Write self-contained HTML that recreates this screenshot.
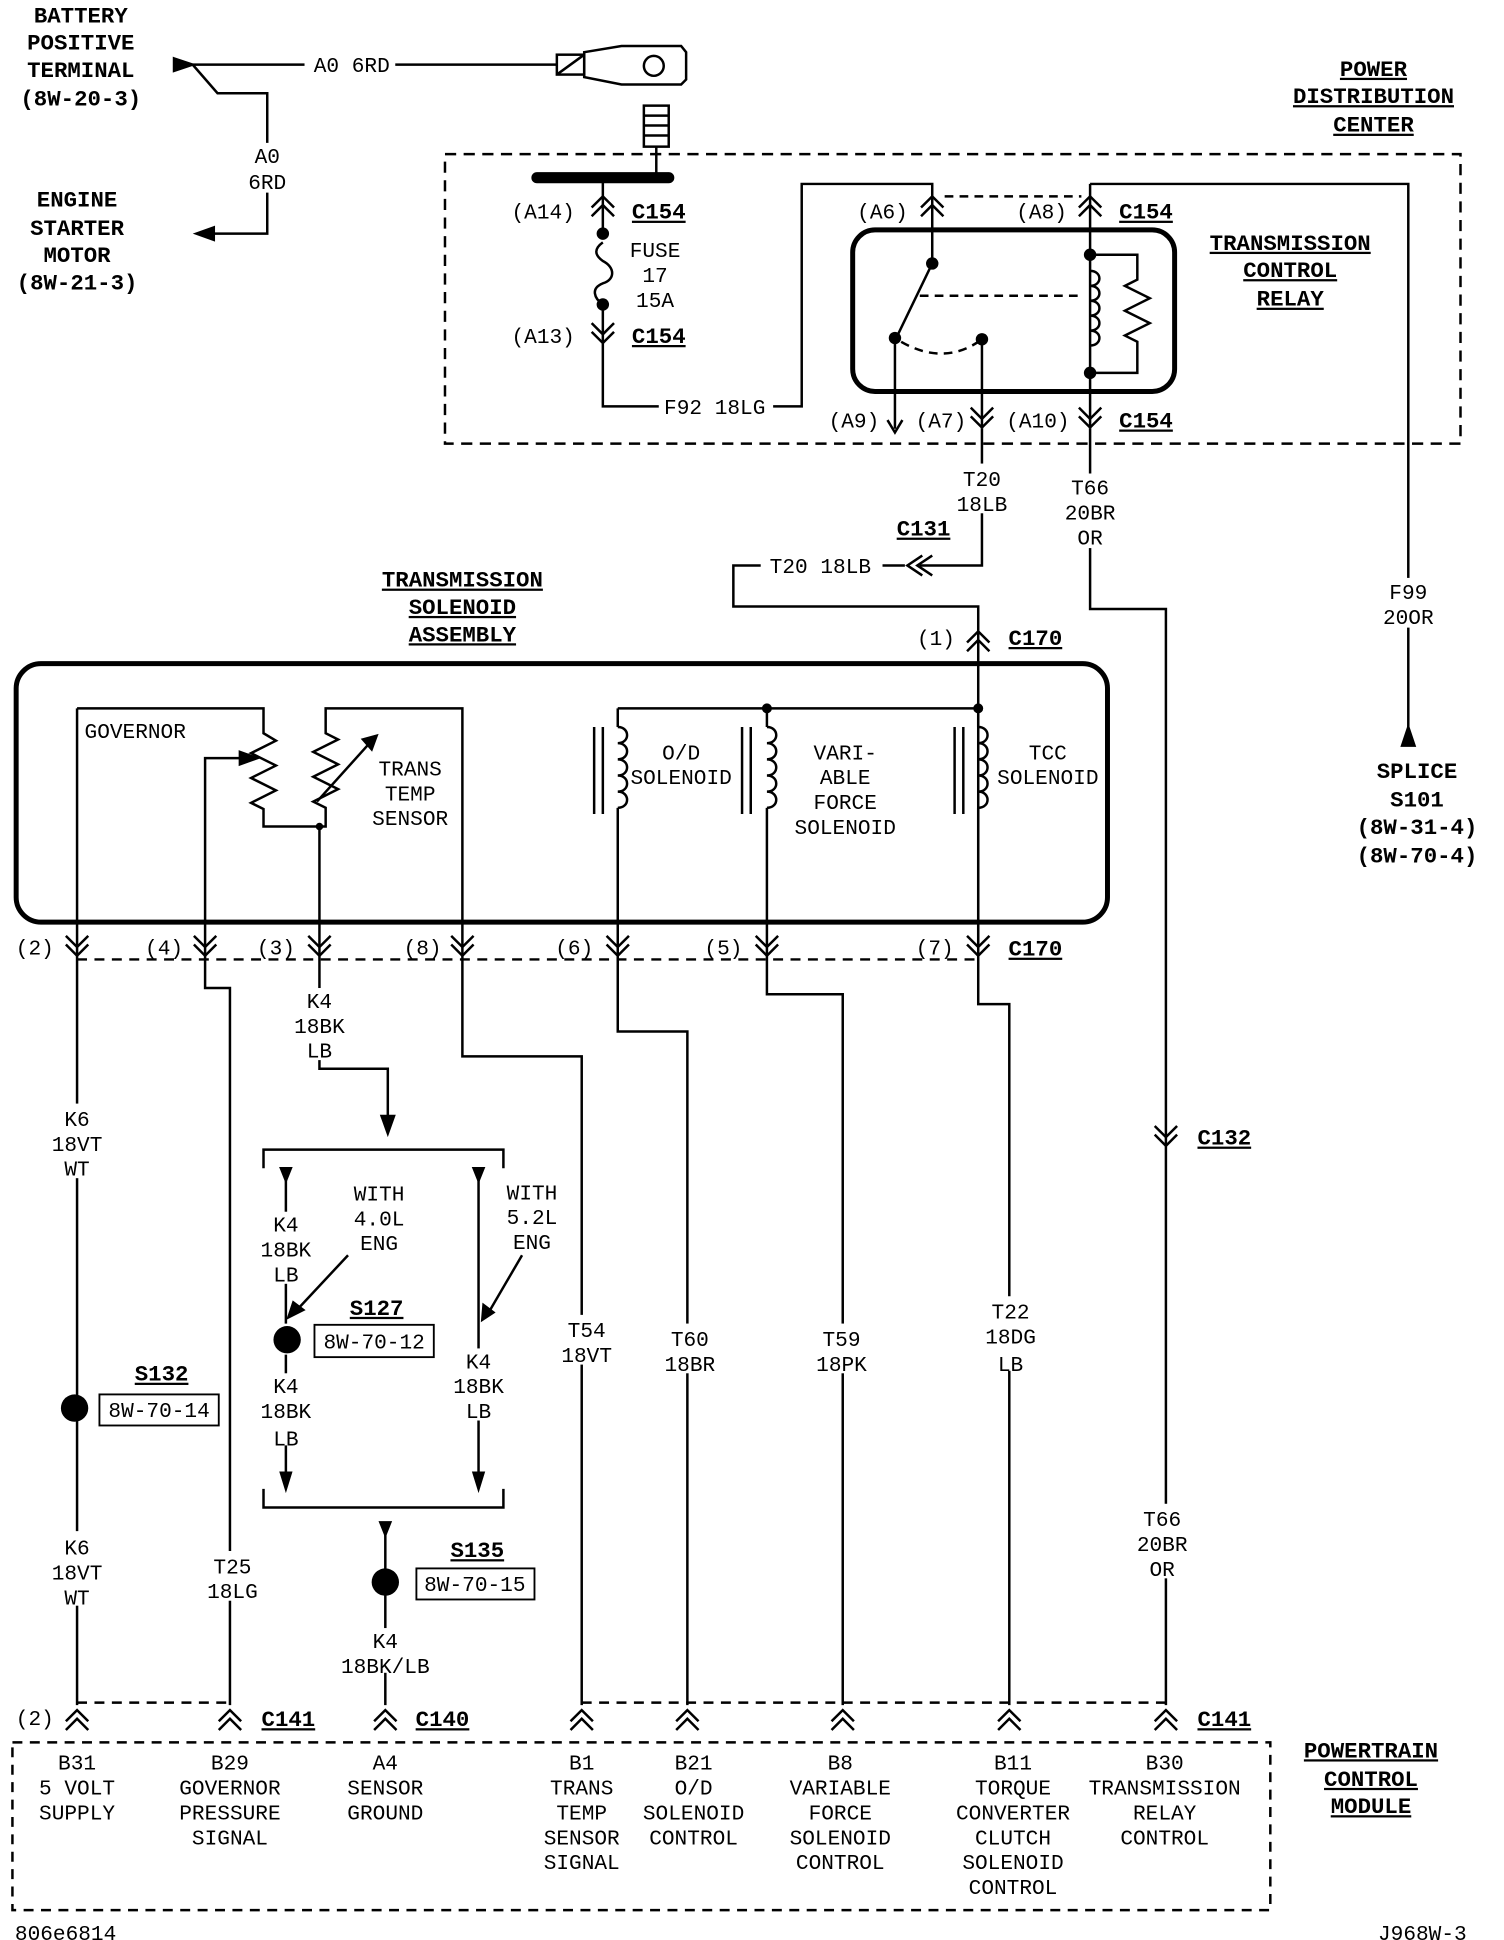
<!DOCTYPE html>
<html><head><style>
html,body{margin:0;padding:0;background:#fff;}
svg{display:block}
text{font-family:"Liberation Mono",monospace;font-size:17px;text-anchor:middle;fill:#000}
.b{font-weight:bold;font-size:18px}
.u{text-decoration:underline}
.l{text-anchor:start}
.r{text-anchor:end}
</style></head><body>
<svg width="1504" height="1940" viewBox="0 0 1210 1561" preserveAspectRatio="none" xmlns="http://www.w3.org/2000/svg">
<defs>
<g id="up"><path d="M-9,5 L0,-4 L9,5 M-9,12 L0,3 L9,12" fill="none" stroke="#000" stroke-width="2"/></g>
<g id="dn"><path d="M-9,-5 L0,4 L9,-5 M-9,-12 L0,-3 L9,-12" fill="none" stroke="#000" stroke-width="2"/></g>
</defs>
<g fill="none" stroke="#000" stroke-width="2">
<path d="M155,52 L245,52 M318,52 L448,52 M155,52 L175,75 L215,75 L215,115 M215,155 L215,188 L170,188"/>
<path d="M140,47 L155,52 L140,57 Z M172,183 L158,188 L172,193 Z" fill="#000"/>
<path d="M470,42 L500,37 L548,37 L552,42 L552,64 L548,68 L500,68 L470,62 Z"/>
<rect x="448" y="44" width="22" height="16"/><path d="M448,60 L470,44"/>
<circle cx="526" cy="53" r="8"/>
<rect x="518" y="85" width="20" height="33"/><path d="M518,93 H538 M518,101 H538 M518,109 H538 M528,118 V140"/>
<line x1="432" y1="143" x2="538" y2="143" stroke-width="9" stroke-linecap="round"/>
<rect x="358" y="124" width="817" height="233" stroke-dasharray="9,6"/>
<path d="M485,143 V188 M485,245 V327 H530 M622,327 H645 V148 H750 V212"/>
<path d="M485,195 C478,200 478,205 485,210 C495,215 495,225 485,228 C475,232 478,240 485,245"/>
<rect x="686" y="185" width="259" height="130" rx="18" stroke-width="4"/>
<path d="M760,158 H870 M740,238 H868 M725,275 Q760,295 790,273" stroke-dasharray="7,5"/>
<path d="M750,212 L722,270 M720,272 V345 M790,273 V345 M877,148 V345 M877,148 H1133 V595"/>
<path d="M877,205 H915 V225 L905,230 L925,240 L905,250 L925,260 L905,270 L915,275 V300 H877"/>
<path d="M877,218 c10,0 10,12 0,12 c10,0 10,12 0,12 c10,0 10,12 0,12 c10,0 10,12 0,12 c10,0 10,12 0,12"/>
<path d="M790,345 V455 H740 M728,455 H590 V488 H787 V760 M877,345 V490 H938 V1372"/>
<path d="M714,338 L720,348 L726,338"/>
<path d="M1128,600 L1133,585 L1138,600 Z" fill="#000"/>
<path d="M742,447 L730,455 L742,463 M750,447 L738,455 L750,463"/>
<rect x="13" y="534" width="878" height="208" rx="20" stroke-width="4"/>
<path d="M62,570 H212 V590 l10,6 -20,10 20,10 -20,10 20,10 -20,10 10,5 V665 H262 V650 l-10,-5 20,-10 -20,-10 20,-10 -20,-10 20,-10 -10,-5 V570 H372 V850 H468 V1372"/>
<path d="M62,570 V1372 M165,760 V610 H200 M255,645 L300,595 M257,665 V860 H312 V905 M165,760 V795 H185 V1372"/>
<path d="M193,605 L207,610 L193,615 Z M292,595 L303,592 L299,603 Z" fill="#000"/>
<path d="M497,570 H787 M497,570 V585 M497,650 V830 H553 V1372 M617,570 V585 M617,650 V800 H678 V1372 M787,570 V585 M787,650 V808 H812 V1372"/>
<path d="M497,585 c10,0 10,13 0,13 c10,0 10,13 0,13 c10,0 10,13 0,13 c10,0 10,13 0,13 c10,0 10,13 0,13"/>
<path d="M617,585 c10,0 10,13 0,13 c10,0 10,13 0,13 c10,0 10,13 0,13 c10,0 10,13 0,13 c10,0 10,13 0,13"/>
<path d="M787,585 c10,0 10,13 0,13 c10,0 10,13 0,13 c10,0 10,13 0,13 c10,0 10,13 0,13 c10,0 10,13 0,13"/>
<path d="M478,585 V655 M485,585 V655 M597,585 V655 M604,585 V655 M768,585 V655 M775,585 V655"/>
<path d="M62,772 H787 M62,1370 H185 M468,1370 H938" stroke-dasharray="8,6"/>
<path d="M212,940 V925 H405 V940 M212,1198 V1213 H405 V1198"/>
<path d="M230,940 V1065 M230,1090 V1195 M385,940 V1195 M310,1228 V1372 M280,1010 L238,1055 M420,1010 L392,1058"/>
<path d="M226,940 L230,950 L234,940 Z M381,940 L385,950 L389,940 Z M226,1185 L230,1198 L234,1185 Z M381,1185 L385,1198 L389,1185 Z M306,1225 L310,1235 L314,1225 Z M307,898 L312,912 L317,898 Z M236,1048 L232,1060 L244,1054 Z M389,1050 L388,1062 L397,1056 Z" fill="#000"/>
<rect x="253" y="1066" width="96" height="26" stroke-width="1.5"/>
<rect x="80" y="1122" width="96" height="25" stroke-width="1.5"/>
<rect x="335" y="1262" width="95" height="25" stroke-width="1.5"/>
<rect x="10" y="1402" width="1012" height="135" stroke-dasharray="8,6"/>
</g>
<g fill="#fff"><rect x="47" y="888" width="30" height="60"/><rect x="47" y="1232" width="30" height="60"/><rect x="165" y="1248" width="40" height="40"/><rect x="240" y="795" width="34" height="58"/><rect x="448" y="1058" width="40" height="40"/><rect x="535" y="1065" width="40" height="40"/><rect x="658" y="1065" width="40" height="40"/><rect x="790" y="1043" width="44" height="60"/><rect x="915" y="1210" width="44" height="60"/><rect x="210" y="975" width="40" height="58"/><rect x="210" y="1105" width="40" height="58"/><rect x="365" y="1085" width="40" height="58"/><rect x="290" y="1310" width="40" height="36"/><rect x="1115" y="465" width="40" height="40"/><rect x="770" y="373" width="40" height="40"/><rect x="857" y="381" width="40" height="60"/><rect x="612" y="444" width="98" height="22"/></g>
<g fill="#000">
<circle cx="485" cy="188" r="5"/><circle cx="485" cy="245" r="5"/>
<circle cx="750" cy="212" r="5"/><circle cx="720" cy="272" r="5"/><circle cx="790" cy="273" r="5"/>
<circle cx="877" cy="205" r="5"/><circle cx="877" cy="300" r="5"/>
<circle cx="257" cy="665" r="3"/><circle cx="617" cy="570" r="4"/><circle cx="787" cy="570" r="4"/>
<circle cx="60" cy="1133" r="11"/><circle cx="231" cy="1078" r="11"/><circle cx="310" cy="1273" r="11"/>
</g>
<use href="#up" x="485" y="162"/><use href="#dn" x="485" y="272"/><use href="#up" x="750" y="162"/><use href="#up" x="877" y="162"/>
<use href="#dn" x="790" y="340"/><use href="#dn" x="877" y="340"/><use href="#up" x="787" y="512"/>
<use href="#dn" x="62" y="765"/><use href="#dn" x="165" y="765"/><use href="#dn" x="257" y="765"/><use href="#dn" x="372" y="765"/><use href="#dn" x="497" y="765"/><use href="#dn" x="617" y="765"/><use href="#dn" x="787" y="765"/>
<use href="#dn" x="938" y="918"/>
<use href="#up" x="62" y="1380"/><use href="#up" x="185" y="1380"/><use href="#up" x="310" y="1380"/><use href="#up" x="468" y="1380"/><use href="#up" x="553" y="1380"/><use href="#up" x="678" y="1380"/><use href="#up" x="812" y="1380"/><use href="#up" x="938" y="1380"/>
<g class="b"><text x="65" y="18" class="b">BATTERY</text><text x="65" y="40" class="b">POSITIVE</text><text x="65" y="62" class="b">TERMINAL</text><text x="65" y="85" class="b">(8W-20-3)</text>
<text x="62" y="166" class="b">ENGINE</text><text x="62" y="189" class="b">STARTER</text><text x="62" y="211" class="b">MOTOR</text><text x="62" y="233" class="b">(8W-21-3)</text>
<text x="1105" y="61" class="b u">POWER</text><text x="1105" y="83" class="b u">DISTRIBUTION</text><text x="1105" y="106" class="b u">CENTER</text>
<text x="1038" y="201" class="b u">TRANSMISSION</text><text x="1038" y="223" class="b u">CONTROL</text><text x="1038" y="246" class="b u">RELAY</text>
<text x="1140" y="626" class="b">SPLICE</text><text x="1140" y="649" class="b">S101</text><text x="1140" y="671" class="b">(8W-31-4)</text><text x="1140" y="694" class="b">(8W-70-4)</text>
<text x="372" y="472" class="b u">TRANSMISSION</text><text x="372" y="494" class="b u">SOLENOID</text><text x="372" y="516" class="b u">ASSEMBLY</text>
<text x="1103" y="1414" class="b u">POWERTRAIN</text><text x="1103" y="1437" class="b u">CONTROL</text><text x="1103" y="1459" class="b u">MODULE</text>
<text x="530" y="176" class="b u">C154</text><text x="530" y="276" class="b u">C154</text><text x="922" y="176" class="b u">C154</text><text x="922" y="344" class="b u">C154</text>
<text x="743" y="431" class="b u">C131</text><text x="833" y="519" class="b u">C170</text><text x="833" y="769" class="b u">C170</text><text x="985" y="921" class="b u">C132</text>
<text x="232" y="1389" class="b u">C141</text><text x="356" y="1389" class="b u">C140</text><text x="985" y="1389" class="b u">C141</text>
<text x="130" y="1111" class="b u">S132</text><text x="303" y="1058" class="b u">S127</text><text x="384" y="1253" class="b u">S135</text>
</g>
<text x="283" y="58">A0 6RD</text><text x="215" y="131">A0</text><text x="215" y="152">6RD</text>
<text x="437" y="176">(A14)</text><text x="437" y="276">(A13)</text><text x="527" y="207">FUSE</text><text x="527" y="227">17</text><text x="527" y="247">15A</text>
<text x="575" y="333">F92 18LG</text><text x="710" y="176">(A6)</text><text x="838" y="176">(A8)</text>
<text x="687" y="344">(A9)</text><text x="757" y="344">(A7)</text><text x="835" y="344">(A10)</text>
<text x="790" y="391">T20</text><text x="790" y="411">18LB</text><text x="877" y="398">T66</text><text x="877" y="418">20BR</text><text x="877" y="438">OR</text>
<text x="660" y="461">T20 18LB</text><text x="1133" y="482">F99</text><text x="1133" y="502">20OR</text><text x="753" y="519">(1)</text>
<text x="68" y="594" class="l">GOVERNOR</text><text x="330" y="624">TRANS</text><text x="330" y="644">TEMP</text><text x="330" y="664">SENSOR</text>
<text x="548" y="611">O/D</text><text x="548" y="631">SOLENOID</text><text x="680" y="611">VARI-</text><text x="680" y="631">ABLE</text><text x="680" y="651">FORCE</text><text x="680" y="671">SOLENOID</text>
<text x="843" y="611">TCC</text><text x="843" y="631">SOLENOID</text>
<text x="28" y="768">(2)</text><text x="132" y="768">(4)</text><text x="222" y="768">(3)</text><text x="340" y="768">(8)</text><text x="462" y="768">(6)</text><text x="582" y="768">(5)</text><text x="752" y="768">(7)</text>
<text x="257" y="811">K4</text><text x="257" y="831">18BK</text><text x="257" y="851">LB</text>
<text x="62" y="906">K6</text><text x="62" y="926">18VT</text><text x="62" y="946">WT</text>
<text x="230" y="991">K4</text><text x="230" y="1011">18BK</text><text x="230" y="1031">LB</text>
<text x="305" y="966">WITH</text><text x="305" y="986">4.0L</text><text x="305" y="1006">ENG</text>
<text x="428" y="965">WITH</text><text x="428" y="985">5.2L</text><text x="428" y="1005">ENG</text>
<text x="301" y="1085">8W-70-12</text><text x="128" y="1140">8W-70-14</text><text x="382" y="1280">8W-70-15</text>
<text x="230" y="1121">K4</text><text x="230" y="1141">18BK</text><text x="230" y="1163">LB</text>
<text x="385" y="1101">K4</text><text x="385" y="1121">18BK</text><text x="385" y="1141">LB</text>
<text x="472" y="1076">T54</text><text x="472" y="1096">18VT</text><text x="555" y="1083">T60</text><text x="555" y="1103">18BR</text>
<text x="677" y="1083">T59</text><text x="677" y="1103">18PK</text><text x="813" y="1061">T22</text><text x="813" y="1081">18DG</text><text x="813" y="1103">LB</text>
<text x="935" y="1228">T66</text><text x="935" y="1248">20BR</text><text x="935" y="1268">OR</text>
<text x="62" y="1251">K6</text><text x="62" y="1271">18VT</text><text x="62" y="1291">WT</text><text x="187" y="1266">T25</text><text x="187" y="1286">18LG</text>
<text x="310" y="1326">K4</text><text x="310" y="1346">18BK/LB</text><text x="28" y="1388">(2)</text>
<text x="62" y="1424">B31</text><text x="62" y="1444">5 VOLT</text><text x="62" y="1464">SUPPLY</text>
<text x="185" y="1424">B29</text><text x="185" y="1444">GOVERNOR</text><text x="185" y="1464">PRESSURE</text><text x="185" y="1484">SIGNAL</text>
<text x="310" y="1424">A4</text><text x="310" y="1444">SENSOR</text><text x="310" y="1464">GROUND</text>
<text x="468" y="1424">B1</text><text x="468" y="1444">TRANS</text><text x="468" y="1464">TEMP</text><text x="468" y="1484">SENSOR</text><text x="468" y="1504">SIGNAL</text>
<text x="558" y="1424">B21</text><text x="558" y="1444">O/D</text><text x="558" y="1464">SOLENOID</text><text x="558" y="1484">CONTROL</text>
<text x="676" y="1424">B8</text><text x="676" y="1444">VARIABLE</text><text x="676" y="1464">FORCE</text><text x="676" y="1484">SOLENOID</text><text x="676" y="1504">CONTROL</text>
<text x="815" y="1424">B11</text><text x="815" y="1444">TORQUE</text><text x="815" y="1464">CONVERTER</text><text x="815" y="1484">CLUTCH</text><text x="815" y="1504">SOLENOID</text><text x="815" y="1524">CONTROL</text>
<text x="937" y="1424">B30</text><text x="937" y="1444">TRANSMISSION</text><text x="937" y="1464">RELAY</text><text x="937" y="1484">CONTROL</text>
<text x="12" y="1561" class="l">806e6814</text><text x="1180" y="1561" class="r">J968W-3</text>
</svg>
</body></html>
